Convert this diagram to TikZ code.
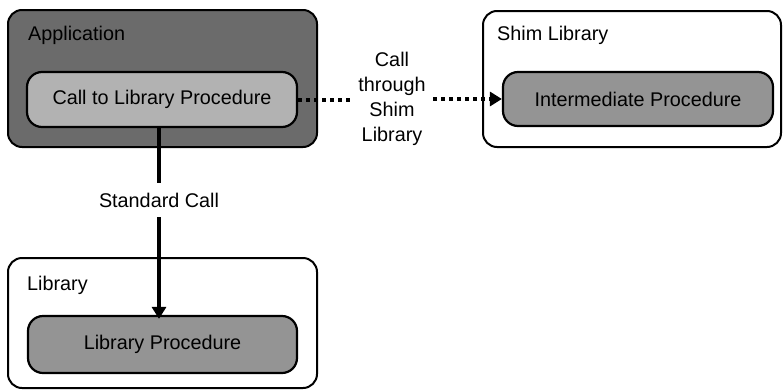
\documentclass[tikz,border=0pt]{standalone}
\usepackage{fontspec}
\setmainfont{Liberation Sans}
\usetikzlibrary{arrows.meta}
\begin{document}
\begin{tikzpicture}[x=1pt,y=-1pt,
  font=\fontsize{19.8}{25}\selectfont,
  container/.style={draw=black,line width=2pt,rounded corners=14pt,inner sep=0pt},
  proc/.style={draw=black,line width=2.2pt,rounded corners=15pt,inner sep=0pt,fill=black!42},
  lbl/.style={inner sep=0pt,anchor=west},
  conn/.style={line width=3.5pt},
  dots/.style={line width=4pt,dash pattern=on 4pt off 4pt},
  tip/.style={-{Triangle[width=14pt,length=12pt]}}
]
\useasboundingbox (0,0) rectangle (783,391);
% containers
\node[container,fill=black!58,minimum width=309pt,minimum height=137pt] (app) at (162.5,78.5) {};
\node[container,fill=white,minimum width=298pt,minimum height=136pt] (shim) at (632,79) {};
\node[container,fill=white,minimum width=309pt,minimum height=130pt] (lib) at (162.5,323) {};
% titles
\node[lbl] (apptitle) at (28,35) {Application};
\node[lbl] (shimtitle) at (497,35) {Shim Library};
\node[lbl] (libtitle) at (27,285) {Library};
% procedures
\node[proc,fill=black!30,minimum width=270pt,minimum height=55pt] (call) at (162,99.5) {Call to Library Procedure};
\node[proc,minimum width=270pt,minimum height=54pt] (inter) at (638,99) {Intermediate Procedure};
\node[proc,minimum width=269pt,minimum height=57pt] (libproc) at (162.5,344.5) {Library Procedure};
% labels
\node[inner sep=0pt,minimum height=34pt] (std) at (159,200) {Standard Call};
\node[inner sep=0pt,minimum width=82pt,align=center] (via) at (392,99) {Call\\through\\Shim\\Library};
% connectors
\draw[conn] (call.south -| std.north) -- (std.north);
\draw[conn,tip] (std.south) -- ([yshift=-4pt]libproc.north -| std.south);
\draw[dots] (call.east) -- (call.east -| via.west);
\draw[dots,tip] (inter.west -| via.east) -- (inter.west);
\end{tikzpicture}
\end{document}
